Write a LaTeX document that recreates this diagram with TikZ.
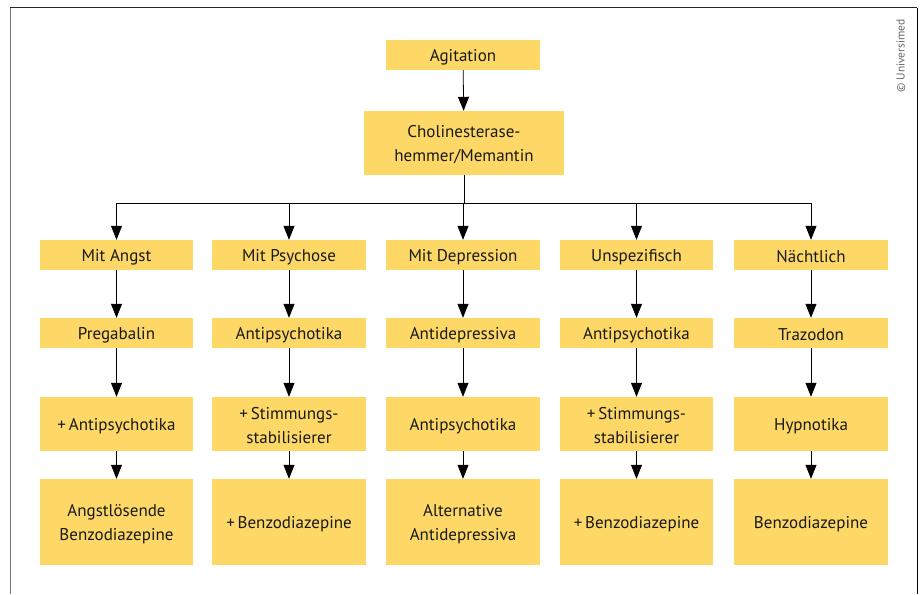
\documentclass[tikz,border=0pt]{standalone}
\usepackage{fontspec}
\setmainfont{PT Sans}
\usetikzlibrary{arrows.meta}
\definecolor{boxfill}{RGB}{253,216,103}
\definecolor{txt}{RGB}{25,25,25}
\tikzset{
  box/.style={fill=boxfill, draw=none, inner sep=0pt},
  boxtext/.style={inner sep=0pt, align=center, text=txt, font=\fontsize{17}{24}\selectfont},
  conn/.style={-{Triangle[length=14pt,width=11pt]}, line width=0.8pt, black}
}
\newcommand{\bx}[6]{% name, x1, y1, x2, y2, text
  \node[box, minimum width=#4pt-#2pt, minimum height=#5pt-#3pt] (#1) at ({(#2+#4)/2},{(#3+#5)/2}) {};
  \node[boxtext] (#1t) at ([yshift=-1.8pt]#1.center) {#6};}
\begin{document}
\begin{tikzpicture}[x=1pt,y=-1pt]
\useasboundingbox (0,0) rectangle (923,594);
\fill[white] (0,0) rectangle (923,594);
\draw[line width=1pt, black!85] (10,8) -- (917,8);
\draw[line width=1pt, black!55] (10,8) -- (10,594);
\draw[line width=1pt, black] (917,8) -- (917,594);
\node[rotate=90, font=\fontsize{11.5}{12}\selectfont, text=black!60, inner sep=0pt] (copy) at (901,56) {© Universimed};
\bx{ag}{386}{40}{540}{70}{Agitation}
\bx{ch}{364}{111}{564}{175}{Cholinesterase-\\hemmer/Memantin}
\coordinate (bar) at (463,203);
\bx{a1}{40}{240}{193}{270}{Mit Angst}
\bx{b1}{212}{240}{366}{270}{Mit Psychose}
\bx{c1}{386}{240}{540}{270}{Mit Depression}
\bx{d1}{560}{240}{713}{270}{Unspezifisch}
\bx{e1}{734}{240}{888}{270}{Nächtlich}
\bx{a2}{40}{318}{193}{348}{Pregabalin}
\bx{b2}{212}{318}{366}{348}{Antipsychotika}
\bx{c2}{386}{318}{540}{348}{Antidepressiva}
\bx{d2}{560}{318}{713}{348}{Antipsychotika}
\bx{e2}{734}{318}{888}{348}{Trazodon}
\bx{a3}{40}{397}{193}{451}{+\,Antipsychotika}
\bx{b3}{212}{397}{366}{451}{+\,Stimmungs-\\stabilisierer}
\bx{c3}{386}{397}{540}{451}{Antipsychotika}
\bx{d3}{560}{397}{713}{451}{+\,Stimmungs-\\stabilisierer}
\bx{e3}{734}{397}{888}{451}{Hypnotika}
\bx{a4}{40}{479}{193}{565}{Angstlösende\\Benzodiazepine}
\bx{b4}{212}{479}{366}{565}{+\,Benzodiazepine}
\bx{c4}{386}{479}{540}{565}{Alternative\\Antidepressiva}
\bx{d4}{560}{479}{713}{565}{+\,Benzodiazepine}
\bx{e4}{734}{479}{888}{565}{Benzodiazepine}
\draw[conn] (ag) -- (ch);
\draw[line width=0.8pt] (ch.south) -- (ch.south |- bar);
\draw[line width=0.8pt] (a1.north |- bar) -- (e1.north |- bar);
\foreach \c in {a,b,c,d,e}{
  \draw[conn] (\c1.north |- bar) -- (\c1.north);
  \draw[conn] (\c1) -- (\c2);
  \draw[conn] (\c2) -- (\c3);
  \draw[conn] (\c3) -- (\c4);
}
\end{tikzpicture}
\end{document}
